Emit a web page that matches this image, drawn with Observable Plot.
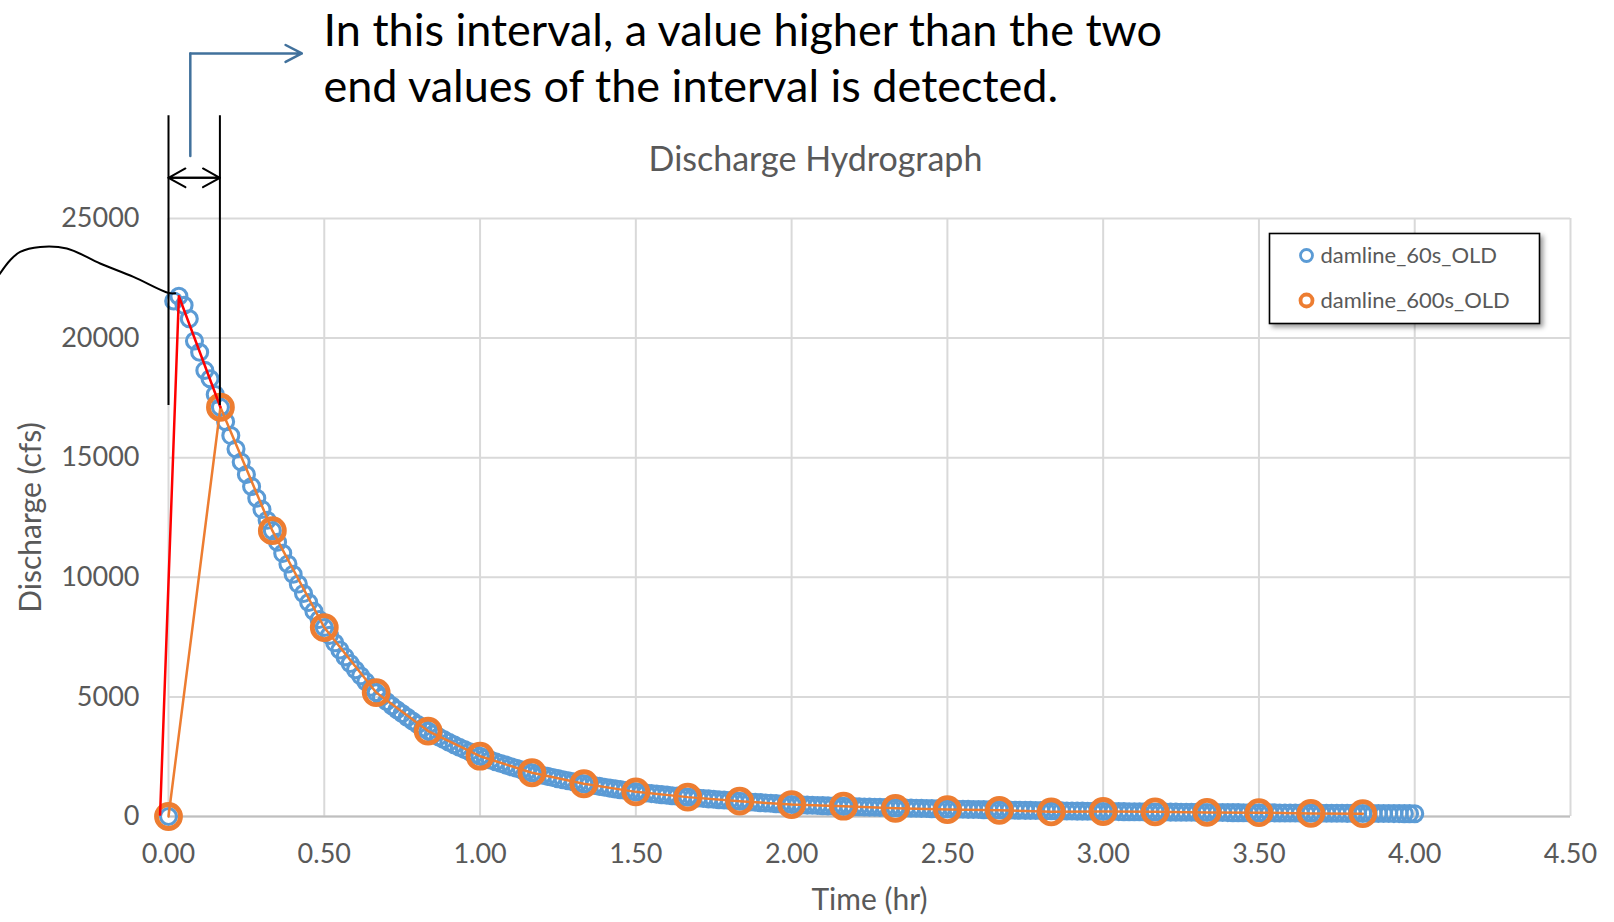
<!DOCTYPE html>
<html>
<head>
<meta charset="utf-8">
<script src="https://cdn.jsdelivr.net/npm/d3@7"></script>
<script src="https://cdn.jsdelivr.net/npm/@observablehq/plot@0.6"></script>
<style>
  html, body { margin: 0; padding: 0; background: #fff; }
  #chart { width: 1614px; height: 922px; overflow: hidden; }
</style>
</head>
<body>
<div id="chart"></div>
<script>
// ---------- data ----------
const chartTitle = "Discharge Hydrograph";
const xLabel = "Time (hr)";
const yLabel = "Discharge (cfs)";
const seriesNames = ["damline_60s_OLD", "damline_600s_OLD"];
const xTicks = [0, 0.5, 1, 1.5, 2, 2.5, 3, 3.5, 4, 4.5];
const yTicks = [0, 5000, 10000, 15000, 20000, 25000];

// time step of each series, in hours (60 s and 600 s)
const step60 = 60 / 3600;
const step600 = 600 / 3600;

// discharge (cfs), one value per time step
const q60 = [
  0, 21550, 21750, 21370, 20810, 19880, 19410, 18650, 18300, 17640, 17110,
  16507, 15925, 15363, 14821, 14298, 13794, 13307, 12838, 12385, 11950,
  11466, 11001, 10555, 10127, 9717, 9323, 8945, 8583, 8235, 7900,
  7574, 7261, 6961, 6673, 6397, 6133, 5880, 5637, 5404, 5180,
  4991, 4809, 4633, 4464, 4301, 4144, 3992, 3846, 3706, 3570,
  3448, 3330, 3216, 3106, 2999, 2897, 2797, 2702, 2609, 2520,
  2441, 2364, 2289, 2217, 2148, 2080, 2015, 1951, 1890, 1830,
  1778, 1727, 1678, 1630, 1583, 1538, 1494, 1452, 1410, 1370,
  1331, 1294, 1258, 1222, 1188, 1154, 1122, 1090, 1060, 1030,
  1006, 982, 958, 936, 913, 892, 870, 850, 830, 810,
  791, 773, 755, 737, 720, 703, 687, 671, 655, 640,
  624, 609, 594, 580, 566, 552, 538, 525, 512, 500,
  492, 484, 476, 468, 461, 453, 446, 439, 432, 425,
  419, 412, 406, 400, 394, 388, 382, 376, 371, 365,
  360, 354, 349, 344, 339, 334, 329, 324, 320, 315,
  311, 306, 302, 298, 294, 290, 286, 282, 279, 275,
  271, 268, 264, 261, 257, 254, 250, 247, 243, 240,
  237, 234, 231, 228, 225, 223, 220, 217, 215, 212,
  210, 207, 205, 203, 201, 199, 197, 194, 192, 190,
  188, 186, 184, 182, 180, 178, 176, 174, 172, 170,
  168, 167, 165, 164, 162, 161, 159, 158, 156, 155,
  153, 152, 150, 149, 147, 146, 144, 143, 141, 140,
  139, 138, 136, 135, 134, 133, 132, 130, 129, 128,
  127, 126, 125, 124, 123, 122, 121, 120, 119, 118
];
const q600 = [
  0, 17110, 11950, 7900, 5180, 3570, 2520, 1830, 1370, 1030, 810, 640,
  500, 430, 340, 290, 260, 195, 210, 195, 170, 160, 130, 120
];

// annotation geometry, in data units (hours, cfs)
const noteLines = [
  "In this interval, a value higher than the two",
  "end values of the interval is detected."
];
const intervalEdges = [0, 0.165];
const intervalSpan = [17180, 29300];
const intervalArrowQ = 26700;
const arrowReach = 0.4; // far end of each arrow's (inset) shaft, hours
const pointerPath = [
  { t: 0.07, q: 27610 },
  { t: 0.07, q: 31900 },
  { t: 0.428, q: 31900 }
];
const redTrace = [
  { t: -0.027, q: 80 },
  { t: 0.0333, q: 21750 },
  { t: 0.1667, q: 17110 }
];
const leaderCurve = [
  { t: -0.545, q: 22620 },
  { t: -0.5083, q: 23256 },
  { t: -0.4762, q: 23604 },
  { t: -0.412, q: 23813 },
  { t: -0.3263, q: 23746 },
  { t: -0.2193, q: 23118 },
  { t: -0.1124, q: 22557 },
  { t: 0, q: 21887 },
  { t: 0.0215, q: 21874 }
];

// ---------- tables ----------
const blue = q60.map((q, i) => ({ t: i * step60, q }));
const orange = q600.map((q, i) => ({ t: i * step600, q }));
const span = intervalEdges[1] - intervalEdges[0];
const intervalArrows = [
  { a: intervalEdges[0] + arrowReach, b: intervalEdges[0], extra: arrowReach - span },
  { a: intervalEdges[1] - arrowReach, b: intervalEdges[1], extra: arrowReach - span }
];

const BLUE = "#5B9BD5", ORANGE = "#ED7D31", GRID = "#d9d9d9", TXT = "#595959";
const pxPerHour = (1614 - 168 - 44) / 4.5;

const plot = Plot.plot({
  width: 1614,
  height: 922,
  marginLeft: 168,
  marginRight: 44,
  marginTop: 218,
  marginBottom: 106,
  style: { fontFamily: "Lato, 'Open Sans', sans-serif", fontSize: "27px", color: TXT, background: "#fff", overflow: "visible" },
  x: { domain: [0, 4.5], ticks: xTicks, tickFormat: d3.format(".2f"), tickSize: 0, tickPadding: 27, label: null },
  y: { domain: [0, 25000], ticks: yTicks, tickFormat: d => String(d), tickSize: 0, tickPadding: 29, label: null },
  marks: [
    Plot.ruleX(xTicks, { stroke: GRID, strokeWidth: 2 }),
    Plot.ruleY(yTicks, { stroke: GRID, strokeWidth: 2 }),
    Plot.ruleY([0], { stroke: "#bfbfbf", strokeWidth: 2 }),
    Plot.dot(blue, { x: "t", y: "q", r: 8, stroke: BLUE, strokeWidth: 3.1, fill: "none" }),
    Plot.line(orange, { x: "t", y: "q", stroke: ORANGE, strokeWidth: 2.5 }),
    Plot.dot(orange, { x: "t", y: "q", r: 12, stroke: ORANGE, strokeWidth: 4.8, fill: "none" }),
    Plot.line(redTrace, { x: "t", y: "q", stroke: "#ff0000", strokeWidth: 2.5 }),
    Plot.ruleX(intervalEdges, { x: d => d, y1: intervalSpan[0], y2: intervalSpan[1], stroke: "#000", strokeWidth: 2 }),
    ...intervalArrows.map(d => Plot.arrow([d], { x1: "a", x2: "b", y1: intervalArrowQ, y2: intervalArrowQ, insetStart: d.extra * pxPerHour, stroke: "#000", strokeWidth: 2, headLength: 14.5, headAngle: 58 })),
    Plot.line(leaderCurve, { x: "t", y: "q", curve: "catmull-rom", stroke: "#000", strokeWidth: 2 }),
    Plot.line(pointerPath.slice(0, 2), { x: "t", y: "q", stroke: "#41719C", strokeWidth: 2.5 }),
    Plot.arrow([pointerPath], { x1: d => d[1].t, y1: d => d[1].q, x2: d => d[2].t, y2: d => d[2].q, stroke: "#41719C", strokeWidth: 2.5, headLength: 11, headAngle: 55 }),
    Plot.text([chartTitle], { text: d => d, frameAnchor: "top", dx: -54, dy: -58, fontSize: 34, fill: TXT, lineAnchor: "middle" }),
    Plot.text([xLabel], { text: d => d, frameAnchor: "bottom", dy: 84, fontSize: 30, fill: TXT, lineAnchor: "middle" }),
    Plot.text([yLabel], { text: d => d, frameAnchor: "left", dx: -137, rotate: -90, textAnchor: "middle", fontSize: 30, fill: TXT, lineAnchor: "middle" }),
    Plot.text([noteLines.join("\n")], { text: d => d, frameAnchor: "top-left", dx: 155, dy: -162, textAnchor: "start", lineAnchor: "middle", lineHeight: 1.24, fontSize: 45, fill: "#000" })
  ]
});

document.getElementById("chart").appendChild(plot);

// ---------- legend ----------
const svg = d3.select(plot);
const defs = svg.append("defs");
const f = defs.append("filter").attr("id", "lgshadow").attr("x", "-10%").attr("y", "-10%").attr("width", "130%").attr("height", "140%");
f.append("feDropShadow").attr("dx", 3).attr("dy", 3).attr("stdDeviation", 2.5).attr("flood-color", "#000").attr("flood-opacity", 0.4);
const lg = svg.append("g").attr("transform", "translate(1269.5,233.5)").attr("text-anchor", "start");
lg.append("rect").attr("width", 270).attr("height", 90).attr("fill", "#fff").attr("stroke", "#000").attr("stroke-width", 1.6).attr("filter", "url(#lgshadow)");
const legendItems = [
  { name: seriesNames[0], color: BLUE, sw: 2.8 },
  { name: seriesNames[1], color: ORANGE, sw: 3.8 }
];
legendItems.forEach((it, i) => {
  const gy = 22 + i * 45;
  lg.append("circle").attr("cx", 37).attr("cy", gy).attr("r", 6).attr("fill", "none").attr("stroke", it.color).attr("stroke-width", it.sw);
  lg.append("text").attr("x", 51).attr("y", gy).attr("dy", "0.35em").attr("text-anchor", "start").attr("font-size", 22).attr("fill", TXT).text(it.name);
});
</script>
</body>
</html>
